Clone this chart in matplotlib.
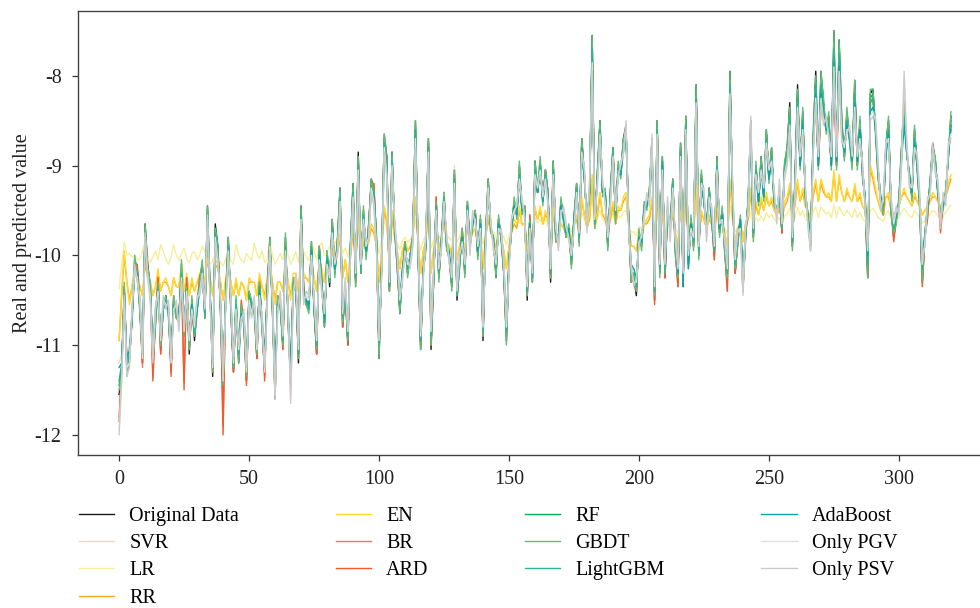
import numpy as np
import matplotlib
matplotlib.use("Agg")
import matplotlib.pyplot as plt


def vals(s):
    return np.array(s.split(), dtype=float)


original = vals("""
-11.55 -11.30 -10.35 -11.30 -11.15 -10.70 -10.05 -10.15 -10.60 -11.20 -9.65 -10.10 -10.35 -11.20 -10.75 -10.30 -11.05 -10.60 -10.45 -10.65
-11.25 -10.50 -10.65 -10.75 -10.10 -10.90 -10.30 -11.10 -10.50 -10.95 -10.60 -10.30 -10.10 -10.70 -9.45 -10.40 -11.35 -9.65 -9.90 -10.60
-11.50 -10.50 -9.80 -10.60 -11.30 -10.50 -11.20 -10.60 -10.75 -11.40 -10.40 -10.55 -10.60 -11.15 -10.30 -10.80 -11.30 -10.40 -9.80 -10.60
-11.60 -10.50 -10.55 -11.00 -9.80 -10.70 -11.45 -10.30 -10.30 -11.20 -9.45 -10.40 -10.55 -10.60 -9.85 -10.60 -11.10 -9.90 -10.30 -10.80
-9.95 -10.35 -9.60 -10.20 -9.85 -9.25 -10.80 -10.40 -11.00 -9.90 -9.20 -10.30 -8.85 -10.20 -9.50 -10.00 -9.70 -9.15 -9.25 -9.80
-11.15 -10.10 -8.65 -8.90 -10.40 -8.85 -9.70 -10.10 -10.65 -10.20 -9.90 -10.20 -10.00 -9.80 -8.50 -9.90 -11.05 -10.20 -9.90 -8.70
-11.05 -10.30 -9.40 -10.25 -9.85 -9.30 -9.90 -10.00 -10.35 -9.05 -10.50 -10.10 -9.75 -10.20 -9.40 -9.90 -9.65 -9.50 -10.00 -9.60
-10.95 -9.80 -9.15 -9.70 -9.80 -10.25 -9.60 -9.80 -10.20 -10.95 -10.10 -9.70 -9.40 -9.55 -9.00 -9.50 -9.45 -10.50 -9.60 -10.30
-8.95 -9.30 -8.95 -9.40 -9.05 -9.30 -10.30 -8.95 -9.80 -9.85 -9.40 -9.60 -9.80 -9.70 -10.10 -9.60 -9.20 -9.85 -8.70 -9.10
-9.65 -9.30 -7.55 -9.70 -9.10 -8.50 -9.30 -9.30 -9.90 -9.30 -8.80 -9.60 -9.00 -9.10 -8.70 -8.55 -9.60 -10.30 -10.25 -10.45
-9.75 -9.90 -9.45 -9.45 -9.30 -8.70 -10.50 -8.50 -10.20 -8.90 -10.25 -9.50 -9.70 -9.15 -9.95 -10.30 -8.75 -10.35 -8.45 -10.10
-9.60 -9.90 -8.10 -10.00 -9.10 -9.40 -9.70 -9.25 -9.60 -10.00 -8.90 -9.75 -9.50 -9.95 -10.30 -7.95 -9.30 -10.20 -9.85 -9.60
-10.40 -9.80 -9.40 -8.50 -9.80 -9.00 -9.40 -8.90 -9.35 -8.60 -9.15 -8.80 -9.40 -9.55 -9.30 -9.75 -9.00 -8.80 -8.30 -9.90
-9.20 -8.10 -9.00 -8.40 -9.35 -9.60 -9.90 -8.70 -7.95 -9.00 -7.95 -8.30 -8.60 -8.45 -9.00 -7.50 -9.00 -7.60 -8.50 -8.90
-8.40 -8.70 -9.00 -8.05 -9.00 -8.50 -9.10 -9.40 -10.25 -8.20 -8.15 -8.60 -9.10 -9.40 -9.50 -8.75 -8.50 -9.50 -9.80 -9.60
-9.40 -8.80 -8.30 -8.85 -9.10 -9.35 -8.60 -9.00 -9.45 -10.30 -9.80 -9.50 -9.20 -8.75 -8.95 -9.30 -9.60 -9.45 -9.30 -8.90
-8.45
""")

svr = vals("""
-11.20 -11.10 -10.55 -11.10 -11.00 -10.65 -10.20 -10.25 -10.55 -10.95 -9.85 -10.25 -10.40 -10.95 -10.65 -10.40 -10.85 -10.60 -10.50 -10.60
-11.00 -10.55 -10.65 -10.65 -10.25 -10.75 -10.40 -10.85 -10.55 -10.80 -10.60 -10.40 -10.25 -10.60 -9.70 -10.45 -11.05 -9.85 -10.05 -10.55
-11.20 -10.55 -9.95 -10.60 -11.05 -10.55 -11.00 -10.60 -10.70 -11.10 -10.50 -10.55 -10.60 -10.90 -10.40 -10.70 -11.05 -10.45 -9.95 -10.55
-11.25 -10.55 -10.55 -10.85 -9.95 -10.65 -11.15 -10.40 -10.35 -10.95 -9.70 -10.45 -10.55 -10.55 -10.00 -10.55 -10.90 -10.05 -10.35 -10.65
-10.05 -10.30 -9.70 -10.15 -9.90 -9.30 -10.65 -10.35 -10.80 -9.95 -9.30 -10.25 -8.95 -10.15 -9.55 -10.00 -9.75 -9.20 -9.25 -9.85
-10.90 -10.10 -8.65 -8.95 -10.35 -8.90 -9.75 -10.05 -10.55 -10.15 -9.90 -10.15 -10.00 -9.80 -8.50 -9.90 -10.85 -10.15 -9.90 -8.75
-10.85 -10.25 -9.45 -10.20 -9.85 -9.30 -9.90 -10.00 -10.30 -9.00 -10.40 -10.05 -9.75 -10.15 -9.40 -9.90 -9.65 -9.50 -10.00 -9.60
-10.75 -9.80 -9.20 -9.70 -9.80 -10.15 -9.60 -9.80 -10.15 -10.75 -10.05 -9.70 -9.40 -9.55 -9.05 -9.50 -9.50 -10.35 -9.60 -10.20
-9.00 -9.30 -9.00 -9.40 -9.10 -9.30 -10.15 -9.00 -9.80 -9.80 -9.40 -9.60 -9.75 -9.70 -10.00 -9.60 -9.25 -9.80 -8.80 -9.15
-9.60 -9.30 -7.80 -9.65 -9.10 -8.60 -9.30 -9.30 -9.80 -9.30 -8.85 -9.55 -9.05 -9.10 -8.75 -8.65 -9.55 -10.15 -10.15 -10.30
-9.75 -9.85 -9.45 -9.45 -9.30 -8.80 -10.35 -8.60 -10.10 -8.95 -10.15 -9.50 -9.70 -9.20 -9.90 -10.15 -8.85 -10.20 -8.55 -10.05
-9.60 -9.85 -8.25 -9.95 -9.15 -9.40 -9.65 -9.30 -9.60 -9.95 -9.00 -9.75 -9.50 -9.90 -10.15 -8.15 -9.30 -10.10 -9.80 -9.60
-10.25 -9.75 -9.40 -8.65 -9.75 -9.05 -9.40 -8.95 -9.35 -8.70 -9.15 -8.90 -9.40 -9.50 -9.30 -9.70 -9.05 -8.90 -8.45 -9.85
-9.20 -8.30 -9.00 -8.50 -9.30 -9.55 -9.80 -8.80 -8.15 -9.00 -8.15 -8.40 -8.60 -8.55 -9.00 -7.75 -8.95 -7.85 -8.60 -8.90
-8.50 -8.70 -8.95 -8.25 -8.95 -8.60 -9.05 -9.35 -10.05 -8.35 -8.30 -8.60 -9.05 -9.35 -9.45 -8.85 -8.60 -9.45 -9.70 -9.55
-9.40 -8.90 -8.45 -8.85 -9.10 -9.30 -8.70 -9.00 -9.40 -10.10 -9.75 -9.45 -9.20 -8.85 -8.95 -9.30 -9.55 -9.45 -9.30 -8.90
-8.55
""")

lr = vals("""
-10.37 -10.10 -9.85 -10.00 -9.98 -10.02 -10.00 -10.04 -10.05 -9.95 -9.86 -10.00 -10.08 -10.02 -9.95 -10.05 -9.88 -9.96 -10.04 -10.10
-10.02 -9.88 -10.00 -10.06 -9.98 -9.92 -10.04 -10.08 -9.98 -9.96 -10.05 -10.00 -9.90 -9.96 -10.04 -10.10 -10.06 -9.98 -10.02 -10.08
-10.12 -10.04 -9.96 -10.06 -10.10 -9.88 -10.00 -10.05 -10.08 -9.98 -10.02 -10.06 -9.86 -9.98 -10.04 -9.95 -10.08 -10.05 -9.84 -10.00
-10.10 -10.04 -9.98 -10.05 -9.86 -10.00 -10.10 -10.04 -9.96 -10.08 -9.82 -9.96 -10.02 -10.06 -9.88 -9.94 -10.05 -9.90 -9.86 -10.00
-9.98 -9.90 -9.95 -9.84 -9.90 -9.78 -9.98 -9.92 -10.02 -9.88 -9.76 -9.92 -9.70 -9.90 -9.80 -9.88 -9.78 -9.72 -9.75 -9.85
-9.98 -9.82 -9.62 -9.70 -9.88 -9.66 -9.80 -9.86 -9.94 -9.84 -9.80 -9.86 -9.82 -9.76 -9.60 -9.80 -9.94 -9.84 -9.78 -9.64
-9.92 -9.84 -9.70 -9.82 -9.76 -9.68 -9.78 -9.80 -9.84 -9.64 -9.86 -9.78 -9.74 -9.80 -9.68 -9.76 -9.72 -9.70 -9.78 -9.72
-9.88 -9.74 -9.64 -9.72 -9.74 -9.80 -9.70 -9.74 -9.80 -9.88 -9.78 -9.70 -9.66 -9.68 -9.60 -9.68 -9.66 -9.80 -9.70 -9.78
-9.58 -9.64 -9.60 -9.66 -9.60 -9.64 -9.80 -9.58 -9.70 -9.72 -9.66 -9.68 -9.70 -9.68 -9.74 -9.66 -9.62 -9.70 -9.52 -9.60
-9.66 -9.60 -9.36 -9.66 -9.58 -9.50 -9.60 -9.62 -9.70 -9.60 -9.54 -9.64 -9.56 -9.58 -9.52 -9.50 -9.64 -9.74 -9.74 -9.78
-9.68 -9.70 -9.64 -9.62 -9.60 -9.52 -9.78 -9.50 -9.74 -9.56 -9.76 -9.64 -9.66 -9.58 -9.70 -9.76 -9.54 -9.76 -9.50 -9.72
-9.64 -9.70 -9.46 -9.74 -9.60 -9.64 -9.68 -9.62 -9.66 -9.72 -9.56 -9.68 -9.64 -9.70 -9.76 -9.44 -9.62 -9.74 -9.68 -9.64
-9.76 -9.68 -9.62 -9.52 -9.68 -9.58 -9.62 -9.56 -9.62 -9.52 -9.58 -9.54 -9.60 -9.62 -9.58 -9.64 -9.56 -9.54 -9.48 -9.66
-9.58 -9.46 -9.56 -9.50 -9.60 -9.62 -9.66 -9.52 -9.46 -9.58 -9.46 -9.50 -9.54 -9.52 -9.58 -9.44 -9.58 -9.46 -9.52 -9.56
-9.50 -9.54 -9.58 -9.48 -9.58 -9.52 -9.60 -9.62 -9.66 -9.50 -9.48 -9.52 -9.58 -9.60 -9.62 -9.54 -9.50 -9.60 -9.64 -9.60
-9.58 -9.52 -9.48 -9.52 -9.56 -9.58 -9.50 -9.54 -9.58 -9.64 -9.62 -9.58 -9.54 -9.50 -9.52 -9.56 -9.60 -9.56 -9.52 -9.48
-9.44
""")

rr = vals("""
-10.95 -10.45 -10.00 -10.30 -10.50 -10.35 -10.15 -10.20 -10.35 -10.45 -10.10 -10.25 -10.30 -10.45 -10.35 -10.20 -10.40 -10.30 -10.30 -10.35
-10.45 -10.25 -10.35 -10.35 -10.15 -10.40 -10.25 -10.45 -10.30 -10.40 -10.30 -10.25 -10.20 -10.30 -10.05 -10.25 -10.45 -10.10 -10.15 -10.30
-10.50 -10.30 -10.10 -10.30 -10.45 -10.30 -10.45 -10.30 -10.35 -10.50 -10.30 -10.30 -10.30 -10.45 -10.25 -10.35 -10.45 -10.25 -10.10 -10.30
-10.50 -10.30 -10.30 -10.40 -10.10 -10.30 -10.45 -10.25 -10.25 -10.40 -10.00 -10.25 -10.25 -10.30 -10.10 -10.25 -10.40 -10.10 -10.20 -10.30
-10.05 -10.15 -9.95 -10.10 -10.00 -9.80 -10.25 -10.05 -10.30 -10.00 -9.75 -10.10 -9.60 -10.05 -9.85 -9.95 -9.85 -9.70 -9.75 -9.90
-10.30 -9.95 -9.50 -9.65 -10.10 -9.55 -9.80 -9.95 -10.15 -9.95 -9.85 -9.95 -9.90 -9.80 -9.40 -9.85 -10.20 -9.95 -9.85 -9.50
-10.20 -9.95 -9.70 -9.95 -9.80 -9.65 -9.85 -9.90 -10.00 -9.60 -10.05 -9.90 -9.80 -9.95 -9.70 -9.85 -9.75 -9.70 -9.90 -9.75
-10.15 -9.80 -9.60 -9.75 -9.80 -9.95 -9.70 -9.80 -9.95 -10.15 -9.90 -9.75 -9.65 -9.70 -9.50 -9.65 -9.65 -9.95 -9.70 -9.90
-9.50 -9.60 -9.50 -9.65 -9.55 -9.60 -9.95 -9.50 -9.75 -9.80 -9.65 -9.70 -9.75 -9.70 -9.85 -9.65 -9.60 -9.75 -9.40 -9.55
-9.70 -9.60 -9.15 -9.70 -9.55 -9.35 -9.55 -9.60 -9.75 -9.60 -9.45 -9.65 -9.50 -9.50 -9.40 -9.35 -9.65 -9.90 -9.90 -9.95
-9.75 -9.80 -9.65 -9.65 -9.60 -9.40 -9.95 -9.35 -9.85 -9.50 -9.90 -9.60 -9.70 -9.55 -9.75 -9.90 -9.45 -9.90 -9.40 -9.80
-9.65 -9.75 -9.25 -9.80 -9.55 -9.60 -9.70 -9.60 -9.65 -9.80 -9.45 -9.70 -9.60 -9.75 -9.90 -9.20 -9.55 -9.85 -9.70 -9.65
-9.85 -9.65 -9.60 -9.30 -9.65 -9.45 -9.55 -9.40 -9.50 -9.35 -9.45 -9.40 -9.50 -9.55 -9.50 -9.60 -9.45 -9.40 -9.25 -9.60
-9.45 -9.20 -9.40 -9.30 -9.45 -9.50 -9.60 -9.35 -9.20 -9.40 -9.20 -9.30 -9.35 -9.35 -9.40 -9.10 -9.40 -9.15 -9.30 -9.40
-9.30 -9.35 -9.40 -9.25 -9.40 -9.35 -9.45 -9.50 -9.60 -9.05 -9.15 -9.30 -9.40 -9.50 -9.55 -9.35 -9.35 -9.50 -9.55 -9.50
-9.45 -9.35 -9.30 -9.35 -9.40 -9.45 -9.35 -9.40 -9.45 -9.55 -9.50 -9.45 -9.40 -9.35 -9.35 -9.40 -9.45 -9.40 -9.35 -9.25
-9.15
""")

en = vals("""
-10.95 -10.40 -9.95 -10.30 -10.55 -10.35 -10.10 -10.20 -10.35 -10.45 -10.05 -10.25 -10.30 -10.45 -10.35 -10.15 -10.40 -10.30 -10.25 -10.35
-10.45 -10.25 -10.35 -10.35 -10.10 -10.40 -10.20 -10.45 -10.25 -10.40 -10.30 -10.20 -10.15 -10.30 -10.00 -10.25 -10.45 -10.05 -10.10 -10.30
-10.50 -10.25 -10.05 -10.30 -10.45 -10.25 -10.45 -10.30 -10.35 -10.50 -10.25 -10.30 -10.30 -10.45 -10.20 -10.35 -10.50 -10.25 -10.05 -10.30
-10.55 -10.30 -10.30 -10.40 -10.05 -10.30 -10.50 -10.20 -10.20 -10.40 -9.95 -10.20 -10.25 -10.30 -10.05 -10.25 -10.40 -10.05 -10.15 -10.30
-10.00 -10.15 -9.90 -10.10 -9.95 -9.75 -10.25 -10.05 -10.30 -9.95 -9.70 -10.10 -9.55 -10.05 -9.80 -9.95 -9.85 -9.65 -9.70 -9.90
-10.30 -9.95 -9.45 -9.60 -10.10 -9.50 -9.80 -9.95 -10.15 -9.95 -9.85 -9.95 -9.90 -9.80 -9.35 -9.85 -10.20 -9.95 -9.85 -9.45
-10.20 -9.95 -9.65 -9.95 -9.80 -9.60 -9.85 -9.90 -10.00 -9.55 -10.05 -9.90 -9.75 -9.95 -9.65 -9.85 -9.75 -9.70 -9.90 -9.75
-10.15 -9.80 -9.55 -9.75 -9.80 -9.95 -9.70 -9.80 -9.95 -10.15 -9.90 -9.70 -9.60 -9.65 -9.45 -9.65 -9.65 -9.95 -9.70 -9.90
-9.45 -9.60 -9.45 -9.65 -9.50 -9.60 -9.95 -9.45 -9.75 -9.80 -9.65 -9.70 -9.75 -9.70 -9.85 -9.65 -9.55 -9.75 -9.35 -9.55
-9.70 -9.55 -9.10 -9.70 -9.50 -9.30 -9.55 -9.55 -9.75 -9.55 -9.40 -9.65 -9.45 -9.50 -9.35 -9.30 -9.65 -9.90 -9.90 -9.95
-9.75 -9.80 -9.65 -9.60 -9.55 -9.35 -9.95 -9.30 -9.85 -9.45 -9.90 -9.60 -9.70 -9.50 -9.75 -9.90 -9.40 -9.90 -9.35 -9.80
-9.60 -9.75 -9.20 -9.80 -9.50 -9.60 -9.70 -9.55 -9.65 -9.80 -9.40 -9.70 -9.60 -9.75 -9.90 -9.15 -9.55 -9.85 -9.70 -9.65
-9.85 -9.65 -9.55 -9.25 -9.65 -9.40 -9.55 -9.35 -9.50 -9.30 -9.45 -9.35 -9.50 -9.55 -9.45 -9.60 -9.40 -9.35 -9.20 -9.60
-9.40 -9.15 -9.40 -9.25 -9.45 -9.50 -9.60 -9.30 -9.15 -9.40 -9.15 -9.25 -9.35 -9.30 -9.40 -9.05 -9.40 -9.10 -9.30 -9.40
-9.25 -9.35 -9.40 -9.20 -9.40 -9.30 -9.45 -9.50 -9.60 -9.00 -9.10 -9.25 -9.40 -9.50 -9.55 -9.35 -9.30 -9.50 -9.55 -9.50
-9.45 -9.35 -9.25 -9.35 -9.40 -9.45 -9.30 -9.40 -9.45 -9.55 -9.50 -9.45 -9.40 -9.30 -9.35 -9.40 -9.45 -9.40 -9.30 -9.20
-9.10
""")

br = vals("""
-11.80 -11.30 -10.40 -11.20 -11.20 -10.65 -10.10 -10.15 -10.55 -11.25 -9.70 -10.15 -10.40 -11.35 -10.70 -10.25 -11.10 -10.55 -10.50 -10.60
-11.30 -10.45 -10.70 -10.70 -10.20 -11.40 -10.25 -11.05 -10.55 -10.90 -10.55 -10.25 -10.15 -10.65 -9.55 -10.40 -11.30 -9.70 -9.95 -10.55
-11.90 -10.45 -9.85 -10.55 -11.30 -10.55 -11.15 -10.55 -10.75 -11.40 -10.45 -10.55 -10.55 -11.15 -10.30 -10.75 -11.35 -10.35 -9.85 -10.55
-11.55 -10.45 -10.50 -11.05 -9.85 -10.65 -11.45 -10.30 -10.35 -11.15 -9.50 -10.35 -10.55 -10.60 -9.90 -10.55 -11.10 -9.90 -10.35 -10.75
-10.00 -10.30 -9.65 -10.15 -9.85 -9.30 -10.80 -10.35 -10.95 -9.90 -9.30 -10.30 -8.90 -10.15 -9.55 -10.00 -9.65 -9.20 -9.20 -9.85
-11.10 -10.10 -8.70 -8.95 -10.35 -8.90 -9.70 -10.15 -10.60 -10.20 -9.85 -10.20 -10.00 -9.80 -8.60 -9.95 -11.00 -10.15 -9.90 -8.75
-11.00 -10.30 -9.35 -10.25 -9.85 -9.35 -9.90 -10.05 -10.35 -9.10 -10.45 -10.05 -9.70 -10.20 -9.45 -9.90 -9.65 -9.50 -10.00 -9.60
-10.90 -9.80 -9.20 -9.70 -9.85 -10.20 -9.60 -9.80 -10.20 -10.90 -10.05 -9.65 -9.40 -9.55 -9.05 -9.50 -9.45 -10.45 -9.55 -10.25
-9.00 -9.30 -9.00 -9.40 -9.05 -9.30 -10.25 -9.00 -9.85 -9.85 -9.40 -9.55 -9.80 -9.70 -10.10 -9.60 -9.25 -9.85 -8.75 -9.15
-9.60 -9.30 -7.70 -9.65 -9.10 -8.55 -9.30 -9.30 -9.90 -9.30 -8.85 -9.60 -9.00 -9.10 -8.75 -8.60 -9.60 -10.30 -10.25 -10.40
-9.75 -9.90 -9.45 -9.45 -9.30 -8.75 -10.50 -8.55 -10.20 -8.95 -10.25 -9.50 -9.70 -9.20 -9.95 -10.35 -8.80 -10.30 -8.50 -10.10
-9.60 -9.90 -8.20 -10.00 -9.10 -9.40 -9.70 -9.30 -9.60 -10.05 -8.95 -9.75 -9.50 -9.95 -10.40 -8.05 -9.30 -10.20 -9.85 -9.60
-10.35 -9.80 -9.40 -8.60 -9.80 -9.05 -9.40 -8.95 -9.35 -8.65 -9.15 -8.85 -9.40 -9.55 -9.30 -9.75 -9.05 -8.85 -8.40 -9.90
-9.20 -8.25 -9.00 -8.45 -9.35 -9.60 -9.90 -8.75 -8.30 -9.00 -8.35 -8.40 -8.60 -8.50 -9.00 -7.95 -9.00 -8.00 -8.55 -8.90
-8.45 -8.70 -9.00 -8.15 -9.00 -8.55 -9.10 -9.40 -10.20 -8.30 -8.25 -8.60 -9.10 -9.40 -9.55 -8.80 -8.55 -9.50 -9.80 -9.60
-9.40 -8.85 -8.25 -8.85 -9.15 -9.35 -8.65 -9.00 -9.45 -10.30 -9.80 -9.55 -9.20 -8.80 -8.95 -9.30 -9.65 -9.45 -9.30 -8.90
-8.55
""")

ard = vals("""
-11.85 -11.25 -10.40 -11.20 -11.15 -10.65 -10.10 -10.10 -10.55 -11.20 -9.75 -10.10 -10.40 -11.40 -10.70 -10.25 -11.10 -10.55 -10.50 -10.60
-11.35 -10.45 -10.70 -10.65 -10.25 -11.50 -10.25 -11.05 -10.55 -10.90 -10.55 -10.25 -10.10 -10.60 -9.60 -10.40 -11.30 -9.75 -9.95 -10.55
-12.00 -10.45 -9.85 -10.55 -11.30 -10.55 -11.15 -10.50 -10.75 -11.45 -10.45 -10.55 -10.55 -11.15 -10.30 -10.75 -11.40 -10.35 -9.85 -10.55
-11.55 -10.45 -10.50 -11.05 -9.85 -10.65 -11.50 -10.30 -10.35 -11.15 -9.50 -10.35 -10.55 -10.60 -9.90 -10.55 -11.10 -9.90 -10.35 -10.75
-10.00 -10.30 -9.65 -10.15 -9.85 -9.30 -10.80 -10.35 -11.00 -9.90 -9.30 -10.35 -8.90 -10.15 -9.55 -10.00 -9.65 -9.20 -9.20 -9.85
-11.10 -10.10 -8.70 -8.95 -10.40 -8.90 -9.70 -10.15 -10.60 -10.20 -9.85 -10.20 -10.00 -9.80 -8.60 -9.95 -11.00 -10.15 -9.90 -8.75
-11.00 -10.30 -9.35 -10.25 -9.85 -9.35 -9.90 -10.05 -10.35 -9.10 -10.45 -10.05 -9.70 -10.20 -9.45 -9.90 -9.65 -9.50 -10.00 -9.60
-10.90 -9.80 -9.20 -9.70 -9.85 -10.20 -9.60 -9.80 -10.20 -10.90 -10.05 -9.65 -9.40 -9.55 -9.05 -9.50 -9.45 -10.45 -9.55 -10.25
-9.00 -9.30 -9.00 -9.40 -9.05 -9.30 -10.25 -9.00 -9.85 -9.85 -9.40 -9.55 -9.80 -9.70 -10.10 -9.60 -9.25 -9.85 -8.75 -9.15
-9.60 -9.30 -7.70 -9.65 -9.10 -8.55 -9.30 -9.30 -9.90 -9.30 -8.85 -9.60 -9.00 -9.10 -8.75 -8.60 -9.60 -10.30 -10.25 -10.40
-9.75 -9.90 -9.45 -9.45 -9.30 -8.75 -10.55 -8.55 -10.20 -8.95 -10.25 -9.50 -9.70 -9.20 -9.95 -10.35 -8.80 -10.30 -8.50 -10.10
-9.60 -9.90 -8.20 -10.00 -9.10 -9.40 -9.70 -9.30 -9.60 -10.05 -8.95 -9.75 -9.50 -9.95 -10.40 -8.05 -9.30 -10.20 -9.85 -9.60
-10.35 -9.80 -9.40 -8.60 -9.80 -9.05 -9.40 -8.95 -9.35 -8.65 -9.15 -8.85 -9.40 -9.55 -9.30 -9.75 -9.05 -8.85 -8.40 -9.90
-9.20 -8.25 -9.00 -8.45 -9.35 -9.60 -9.90 -8.75 -8.30 -9.00 -8.35 -8.40 -8.60 -8.50 -9.00 -8.00 -9.00 -8.05 -8.55 -8.90
-8.45 -8.70 -9.00 -8.15 -9.00 -8.55 -9.10 -9.40 -10.25 -8.30 -8.25 -8.60 -9.15 -9.40 -9.55 -8.80 -8.55 -9.50 -9.85 -9.60
-9.40 -8.85 -8.20 -8.85 -9.15 -9.35 -8.65 -9.00 -9.45 -10.35 -9.80 -9.60 -9.20 -8.80 -8.95 -9.30 -9.75 -9.45 -9.30 -8.90
-8.55
""")

rf = vals("""
-11.45 -11.25 -10.40 -11.25 -11.10 -10.70 -10.10 -10.20 -10.60 -11.10 -9.70 -10.15 -10.35 -11.10 -10.70 -10.35 -10.95 -10.60 -10.50 -10.60
-11.15 -10.50 -10.60 -10.70 -10.15 -10.85 -10.35 -11.00 -10.50 -10.90 -10.55 -10.35 -10.15 -10.65 -9.50 -10.45 -11.25 -9.70 -9.95 -10.55
-11.40 -10.45 -9.85 -10.60 -11.25 -10.50 -11.10 -10.60 -10.70 -11.30 -10.45 -10.55 -10.60 -11.05 -10.35 -10.75 -11.20 -10.40 -9.85 -10.60
-11.50 -10.50 -10.55 -10.95 -9.85 -10.65 -11.35 -10.35 -10.30 -11.10 -9.50 -10.40 -10.50 -10.55 -9.90 -10.60 -11.00 -9.95 -10.30 -10.75
-10.00 -10.30 -9.65 -10.20 -9.85 -9.30 -10.70 -10.40 -10.90 -9.90 -9.25 -10.25 -8.90 -10.15 -9.55 -10.00 -9.70 -9.20 -9.30 -9.80
-11.05 -10.10 -8.70 -8.95 -10.35 -8.90 -9.70 -10.05 -10.60 -10.20 -9.90 -10.15 -10.00 -9.80 -8.55 -9.90 -10.95 -10.20 -9.90 -8.75
-10.95 -10.25 -9.45 -10.20 -9.85 -9.35 -9.90 -10.00 -10.30 -9.10 -10.45 -10.10 -9.75 -10.15 -9.45 -9.90 -9.65 -9.55 -10.00 -9.60
-10.85 -9.80 -9.20 -9.70 -9.80 -10.20 -9.60 -9.80 -10.15 -10.85 -10.05 -9.70 -9.45 -9.55 -9.05 -9.50 -9.50 -10.40 -9.60 -10.25
-9.00 -9.30 -9.00 -9.40 -9.10 -9.35 -10.20 -9.00 -9.80 -9.85 -9.40 -9.60 -9.75 -9.70 -10.05 -9.60 -9.25 -9.80 -8.75 -9.15
-9.60 -9.30 -7.65 -9.65 -9.10 -8.55 -9.30 -9.30 -9.85 -9.30 -8.85 -9.55 -9.05 -9.10 -8.75 -8.60 -9.55 -10.20 -10.20 -10.35
-9.75 -9.85 -9.45 -9.45 -9.30 -8.75 -10.40 -8.55 -10.15 -8.95 -10.20 -9.50 -9.70 -9.20 -9.90 -10.20 -8.80 -10.25 -8.50 -10.05
-9.60 -9.85 -8.15 -9.95 -9.15 -9.40 -9.65 -9.30 -9.60 -9.95 -8.95 -9.75 -9.50 -9.90 -10.20 -8.05 -9.30 -10.10 -9.80 -9.60
-10.30 -9.75 -9.40 -8.60 -9.75 -9.05 -9.40 -8.95 -9.35 -8.65 -9.15 -8.85 -9.40 -9.50 -9.30 -9.70 -9.05 -8.85 -8.40 -9.85
-9.20 -8.20 -9.00 -8.45 -9.30 -9.55 -9.85 -8.75 -8.05 -9.00 -8.05 -8.35 -8.60 -8.50 -9.00 -7.60 -8.95 -7.70 -8.55 -8.90
-8.45 -8.70 -8.95 -8.15 -8.95 -8.55 -9.05 -9.35 -10.15 -8.25 -8.20 -8.60 -9.05 -9.35 -9.45 -8.80 -8.55 -9.45 -9.75 -9.55
-9.40 -8.85 -8.40 -8.85 -9.10 -9.30 -8.65 -9.00 -9.40 -10.20 -9.75 -9.45 -9.20 -8.80 -8.95 -9.30 -9.55 -9.45 -9.30 -8.90
-8.50
""")

gbdt = vals("""
-11.50 -11.30 -10.30 -11.35 -11.15 -10.65 -10.00 -10.20 -10.65 -11.15 -9.65 -10.15 -10.30 -11.15 -10.80 -10.30 -11.00 -10.55 -10.45 -10.70
-11.20 -10.45 -10.70 -10.75 -10.05 -10.90 -10.35 -11.05 -10.45 -10.90 -10.65 -10.30 -10.05 -10.70 -9.45 -10.35 -11.30 -9.70 -9.90 -10.65
-11.45 -10.50 -9.80 -10.65 -11.25 -10.45 -11.20 -10.55 -10.80 -11.35 -10.40 -10.50 -10.65 -11.10 -10.30 -10.85 -11.25 -10.45 -9.80 -10.65
-11.55 -10.45 -10.60 -11.00 -9.75 -10.75 -11.40 -10.25 -10.35 -11.15 -9.45 -10.45 -10.55 -10.65 -9.85 -10.55 -11.05 -9.90 -10.35 -10.80
-9.95 -10.30 -9.60 -10.25 -9.80 -9.25 -10.75 -10.45 -10.95 -9.85 -9.20 -10.35 -8.90 -10.20 -9.45 -10.05 -9.70 -9.15 -9.30 -9.75
-11.15 -10.05 -8.65 -8.95 -10.40 -8.85 -9.75 -10.10 -10.65 -10.15 -9.85 -10.25 -10.00 -9.75 -8.50 -9.95 -11.05 -10.15 -9.95 -8.70
-11.00 -10.30 -9.40 -10.30 -9.80 -9.30 -9.95 -10.00 -10.40 -9.05 -10.45 -10.15 -9.70 -10.25 -9.40 -9.85 -9.70 -9.50 -10.05 -9.55
-10.90 -9.75 -9.15 -9.75 -9.80 -10.25 -9.55 -9.85 -10.20 -11.00 -10.05 -9.70 -9.35 -9.60 -8.95 -9.55 -9.45 -10.45 -9.60 -10.30
-8.95 -9.25 -8.90 -9.45 -9.05 -9.30 -10.25 -8.95 -9.85 -9.80 -9.35 -9.65 -9.80 -9.65 -10.15 -9.55 -9.20 -9.90 -8.70 -9.15
-9.60 -9.35 -7.55 -9.70 -9.05 -8.50 -9.35 -9.25 -9.95 -9.25 -8.80 -9.65 -8.95 -9.15 -8.70 -8.60 -9.55 -10.30 -10.20 -10.40
-9.70 -9.95 -9.40 -9.50 -9.25 -8.70 -10.45 -8.50 -10.25 -8.90 -10.20 -9.55 -9.65 -9.15 -10.00 -10.25 -8.75 -10.30 -8.45 -10.15
-9.55 -9.95 -8.10 -10.05 -9.05 -9.45 -9.65 -9.25 -9.65 -9.95 -8.90 -9.80 -9.45 -10.00 -10.25 -7.95 -9.35 -10.15 -9.90 -9.55
-10.35 -9.85 -9.35 -8.55 -9.85 -8.95 -9.45 -8.90 -9.40 -8.60 -9.20 -8.80 -9.45 -9.50 -9.35 -9.70 -8.95 -8.80 -8.35 -9.95
-9.15 -8.15 -9.05 -8.35 -9.40 -9.55 -9.95 -8.65 -8.00 -9.05 -7.95 -8.25 -8.65 -8.40 -9.05 -7.50 -9.05 -7.60 -8.45 -8.95
-8.35 -8.75 -9.05 -8.05 -9.05 -8.45 -9.15 -9.35 -10.25 -8.15 -8.15 -8.65 -9.15 -9.35 -9.55 -8.80 -8.45 -9.55 -9.75 -9.65
-9.35 -8.80 -8.35 -8.90 -9.05 -9.40 -8.55 -9.05 -9.50 -10.30 -9.75 -9.55 -9.15 -8.80 -8.90 -9.35 -9.55 -9.50 -9.25 -8.95
-8.40
""")

lightgbm = vals("""
-11.40 -11.20 -10.45 -11.20 -11.10 -10.75 -10.10 -10.25 -10.55 -11.05 -9.75 -10.20 -10.40 -11.05 -10.70 -10.35 -10.95 -10.60 -10.50 -10.65
-11.10 -10.55 -10.65 -10.70 -10.20 -10.80 -10.40 -10.95 -10.55 -10.85 -10.60 -10.35 -10.20 -10.65 -9.55 -10.45 -11.20 -9.75 -10.00 -10.55
-11.35 -10.50 -9.90 -10.55 -11.20 -10.55 -11.10 -10.65 -10.70 -11.25 -10.45 -10.60 -10.55 -11.05 -10.35 -10.75 -11.20 -10.40 -9.90 -10.55
-11.45 -10.55 -10.50 -10.95 -9.90 -10.65 -11.30 -10.35 -10.30 -11.10 -9.55 -10.40 -10.50 -10.60 -9.90 -10.60 -11.00 -9.95 -10.30 -10.75
-10.00 -10.30 -9.70 -10.15 -9.90 -9.35 -10.70 -10.35 -10.90 -9.95 -9.30 -10.25 -9.00 -10.15 -9.55 -9.95 -9.75 -9.25 -9.30 -9.85
-11.00 -10.15 -8.75 -9.00 -10.35 -8.95 -9.70 -10.05 -10.55 -10.20 -9.90 -10.15 -10.05 -9.80 -8.60 -9.90 -10.95 -10.20 -9.85 -8.80
-10.90 -10.25 -9.45 -10.20 -9.85 -9.35 -9.85 -10.00 -10.30 -9.15 -10.45 -10.05 -9.80 -10.15 -9.45 -9.90 -9.60 -9.55 -9.95 -9.65
-10.85 -9.85 -9.25 -9.70 -9.85 -10.15 -9.65 -9.75 -10.15 -10.85 -10.10 -9.65 -9.45 -9.50 -9.10 -9.45 -9.50 -10.40 -9.65 -10.25
-9.05 -9.30 -9.00 -9.35 -9.10 -9.35 -10.20 -9.05 -9.75 -9.85 -9.45 -9.55 -9.75 -9.75 -10.05 -9.65 -9.25 -9.80 -8.80 -9.10
-9.65 -9.25 -7.70 -9.65 -9.15 -8.60 -9.25 -9.35 -9.85 -9.35 -8.85 -9.55 -9.05 -9.05 -8.80 -8.60 -9.60 -10.20 -10.25 -10.35
-9.80 -9.85 -9.50 -9.40 -9.35 -8.80 -10.40 -8.60 -10.15 -8.95 -10.15 -9.45 -9.75 -9.20 -9.90 -10.20 -8.85 -10.25 -8.55 -10.05
-9.65 -9.85 -8.25 -9.95 -9.15 -9.35 -9.75 -9.30 -9.55 -9.95 -9.00 -9.70 -9.55 -9.90 -10.20 -8.10 -9.25 -10.10 -9.80 -9.65
-10.30 -9.75 -9.45 -8.65 -9.75 -9.05 -9.35 -9.00 -9.30 -8.70 -9.10 -8.90 -9.35 -9.55 -9.25 -9.70 -9.05 -8.90 -8.45 -9.85
-9.25 -8.25 -8.95 -8.50 -9.30 -9.60 -9.80 -8.80 -8.10 -8.95 -8.10 -8.40 -8.55 -8.55 -8.95 -7.70 -8.95 -7.75 -8.60 -8.85
-8.50 -8.65 -8.95 -8.20 -8.95 -8.60 -9.05 -9.40 -10.10 -8.30 -8.25 -8.55 -9.05 -9.40 -9.45 -8.85 -8.60 -9.45 -9.70 -9.55
-9.45 -8.90 -8.45 -8.80 -9.15 -9.30 -8.70 -8.95 -9.40 -10.15 -9.80 -9.45 -9.25 -8.85 -9.00 -9.25 -9.60 -9.40 -9.35 -8.85
-8.55
""")

adaboost = vals("""
-11.25 -11.20 -10.50 -11.15 -11.05 -10.65 -10.20 -10.20 -10.50 -11.00 -9.85 -10.20 -10.45 -11.00 -10.60 -10.40 -10.90 -10.55 -10.55 -10.60
-11.00 -10.60 -10.60 -10.65 -10.25 -10.75 -10.45 -10.90 -10.55 -10.80 -10.60 -10.40 -10.25 -10.60 -9.65 -10.45 -11.10 -9.80 -10.05 -10.50
-11.25 -10.55 -9.95 -10.50 -11.15 -10.60 -11.00 -10.65 -10.65 -11.15 -10.50 -10.60 -10.60 -10.95 -10.40 -10.70 -11.10 -10.45 -9.95 -10.50
-11.35 -10.55 -10.55 -10.85 -9.95 -10.60 -11.20 -10.40 -10.35 -11.00 -9.65 -10.45 -10.50 -10.55 -9.95 -10.55 -10.90 -10.00 -10.35 -10.70
-10.05 -10.25 -9.75 -10.15 -9.90 -9.40 -10.65 -10.35 -10.80 -10.00 -9.40 -10.20 -9.10 -10.10 -9.60 -9.95 -9.75 -9.30 -9.35 -9.85
-10.90 -10.15 -8.85 -9.05 -10.30 -9.00 -9.70 -10.00 -10.50 -10.15 -9.95 -10.10 -10.05 -9.85 -8.70 -9.90 -10.85 -10.15 -9.85 -8.90
-10.80 -10.20 -9.50 -10.15 -9.85 -9.40 -9.85 -9.95 -10.25 -9.25 -10.40 -10.05 -9.80 -10.10 -9.50 -9.85 -9.65 -9.55 -9.95 -9.65
-10.75 -9.85 -9.30 -9.70 -9.85 -10.10 -9.65 -9.80 -10.10 -10.75 -10.05 -9.70 -9.45 -9.55 -9.15 -9.50 -9.50 -10.30 -9.65 -10.20
-9.10 -9.30 -9.05 -9.40 -9.15 -9.35 -10.10 -9.10 -9.75 -9.80 -9.45 -9.60 -9.75 -9.70 -10.00 -9.60 -9.30 -9.75 -8.90 -9.15
-9.60 -9.30 -7.85 -9.60 -9.15 -8.70 -9.30 -9.30 -9.80 -9.35 -8.95 -9.50 -9.10 -9.10 -8.85 -8.70 -9.55 -10.10 -10.15 -10.25
-9.80 -9.85 -9.50 -9.45 -9.35 -8.85 -10.30 -8.70 -10.10 -9.00 -10.10 -9.50 -9.70 -9.25 -9.85 -10.20 -8.90 -10.35 -8.60 -10.15
-9.65 -9.80 -8.30 -9.90 -9.20 -9.40 -9.65 -9.35 -9.60 -9.90 -9.05 -9.70 -9.55 -9.85 -10.15 -8.20 -9.30 -10.05 -9.80 -9.60
-10.25 -9.75 -9.45 -8.75 -9.70 -9.10 -9.40 -9.05 -9.35 -8.75 -9.15 -8.95 -9.40 -9.50 -9.30 -9.65 -9.10 -8.95 -8.55 -9.80
-9.25 -8.35 -9.00 -8.55 -9.30 -9.55 -9.80 -8.85 -8.20 -9.00 -8.20 -8.45 -8.60 -8.60 -9.00 -7.85 -8.95 -7.90 -8.65 -8.85
-8.55 -8.70 -8.95 -8.30 -8.95 -8.60 -9.05 -9.35 -10.00 -8.40 -8.35 -8.60 -9.05 -9.35 -9.40 -8.90 -8.65 -9.40 -9.65 -9.55
-9.45 -8.95 -8.55 -8.85 -9.10 -9.30 -8.75 -9.00 -9.40 -10.05 -9.75 -9.45 -9.25 -8.90 -9.00 -9.30 -9.55 -9.45 -9.35 -8.90
-8.60
""")

only_pgv = vals("""
-11.95 -11.35 -10.50 -11.25 -11.20 -10.60 -10.15 -10.25 -10.50 -11.15 -9.80 -10.20 -10.45 -11.15 -10.60 -10.40 -10.95 -10.50 -10.55 -10.55
-11.20 -10.60 -10.55 -10.80 -10.25 -10.85 -10.40 -10.95 -10.60 -10.80 -10.50 -10.40 -10.20 -10.60 -9.60 -10.50 -11.25 -9.80 -10.05 -10.50
-11.40 -10.55 -9.95 -10.50 -11.20 -10.60 -11.05 -10.70 -10.65 -11.30 -10.50 -10.65 -10.50 -11.05 -10.45 -10.70 -11.30 -10.50 -9.90 -10.50
-11.60 -10.60 -10.45 -10.90 -9.95 -10.60 -11.60 -10.40 -10.25 -11.05 -9.60 -10.50 -10.45 -10.50 -10.00 -10.50 -10.95 -10.05 -10.40 -10.65
-10.10 -10.25 -9.75 -10.10 -9.95 -9.40 -10.65 -10.30 -10.85 -10.00 -9.35 -10.20 -9.05 -10.10 -9.60 -9.90 -9.80 -9.25 -9.40 -9.90
-10.95 -10.20 -8.80 -9.10 -10.30 -9.00 -9.65 -10.00 -10.50 -10.25 -9.95 -10.10 -10.10 -9.85 -8.70 -9.85 -10.90 -10.25 -9.80 -8.85
-10.85 -10.20 -9.50 -10.15 -9.90 -9.40 -9.80 -10.05 -10.25 -9.20 -10.40 -10.00 -9.85 -10.10 -9.50 -9.95 -9.55 -9.60 -9.90 -9.70
-10.80 -9.90 -9.25 -9.65 -9.90 -10.10 -9.70 -9.75 -10.10 -10.80 -10.15 -9.60 -9.50 -9.45 -9.15 -9.40 -9.55 -10.35 -9.70 -10.20
-9.10 -9.25 -9.05 -9.35 -9.15 -9.40 -10.15 -9.10 -9.70 -9.90 -9.50 -9.50 -9.70 -9.80 -10.00 -9.70 -9.30 -9.75 -8.85 -9.05
-9.70 -9.20 -7.85 -9.60 -9.20 -8.65 -9.20 -9.40 -9.80 -9.40 -8.90 -9.50 -9.10 -9.00 -8.85 -8.55 -9.65 -10.15 -10.30 -10.30
-9.85 -9.80 -9.55 -9.35 -9.40 -8.70 -10.35 -8.65 -10.10 -9.05 -10.10 -9.40 -9.80 -9.25 -9.85 -10.15 -8.90 -10.20 -8.60 -10.00
-9.70 -9.80 -8.30 -9.90 -9.20 -9.30 -9.80 -9.35 -9.50 -9.90 -9.05 -9.65 -9.60 -9.85 -10.15 -8.20 -9.20 -10.05 -9.75 -9.70
-10.40 -9.70 -9.50 -8.50 -9.70 -9.10 -9.30 -9.05 -9.25 -8.75 -9.05 -8.95 -9.30 -9.60 -9.20 -9.65 -9.10 -8.95 -8.55 -9.80
-9.30 -8.35 -8.90 -8.60 -9.25 -9.65 -9.90 -8.85 -8.25 -8.90 -8.25 -8.50 -8.50 -8.65 -8.90 -7.90 -8.90 -7.95 -8.70 -8.80
-8.60 -8.60 -8.90 -8.35 -8.90 -8.70 -9.00 -9.45 -9.95 -8.45 -8.40 -8.50 -9.00 -9.45 -9.40 -8.75 -8.70 -9.40 -9.65 -9.50
-9.50 -8.95 -8.05 -8.75 -9.20 -9.25 -8.80 -8.90 -9.35 -10.10 -9.85 -9.40 -9.30 -8.80 -9.05 -9.20 -9.65 -9.35 -9.40 -8.80
-8.65
""")

only_psv = vals("""
-12.00 -11.40 -10.45 -11.35 -11.25 -10.55 -10.10 -10.30 -10.45 -11.10 -9.75 -10.25 -10.50 -11.20 -10.55 -10.45 -10.90 -10.45 -10.60 -10.50
-11.15 -10.65 -10.50 -10.85 -10.30 -10.80 -10.45 -10.90 -10.65 -10.75 -10.45 -10.45 -10.25 -10.55 -9.55 -10.55 -11.20 -9.85 -10.10 -10.45
-11.35 -10.60 -10.00 -10.45 -11.15 -10.65 -11.00 -10.75 -10.60 -11.25 -10.55 -10.70 -10.45 -11.00 -10.50 -10.65 -11.25 -10.55 -9.95 -10.45
-11.55 -10.65 -10.40 -10.85 -10.00 -10.55 -11.65 -10.45 -10.20 -11.00 -9.65 -10.55 -10.40 -10.45 -10.05 -10.45 -10.90 -10.10 -10.45 -10.60
-10.15 -10.20 -9.80 -10.05 -10.00 -9.45 -10.60 -10.25 -10.80 -10.05 -9.40 -10.15 -9.10 -10.05 -9.65 -9.85 -9.85 -9.30 -9.45 -9.95
-10.90 -10.25 -8.85 -9.15 -10.25 -9.05 -9.60 -9.95 -10.45 -10.30 -10.00 -10.05 -10.15 -9.90 -8.80 -9.80 -10.85 -10.30 -9.75 -8.90
-10.80 -10.15 -9.55 -10.10 -9.95 -9.45 -9.75 -10.10 -10.20 -9.25 -10.35 -9.95 -9.90 -10.05 -9.55 -10.00 -9.50 -9.65 -9.85 -9.75
-10.75 -9.95 -9.30 -9.60 -9.95 -10.05 -9.75 -9.70 -10.05 -10.75 -10.20 -9.55 -9.55 -9.40 -9.20 -9.35 -9.60 -10.30 -9.75 -10.15
-9.15 -9.20 -9.10 -9.30 -9.20 -9.45 -10.10 -9.15 -9.65 -9.95 -9.55 -9.45 -9.65 -9.85 -9.95 -9.75 -9.35 -9.70 -8.90 -9.00
-9.75 -9.15 -7.95 -9.55 -9.25 -8.70 -9.15 -9.45 -9.75 -9.45 -8.95 -9.45 -9.15 -8.95 -8.90 -8.50 -9.70 -10.10 -10.35 -10.25
-9.90 -9.75 -9.60 -9.30 -9.45 -8.65 -10.30 -8.70 -10.05 -9.10 -10.05 -9.35 -9.85 -9.30 -9.80 -10.10 -8.95 -10.15 -8.65 -9.95
-9.75 -9.75 -8.35 -9.85 -9.25 -9.25 -9.85 -9.40 -9.45 -9.85 -9.10 -9.60 -9.65 -9.80 -10.10 -8.25 -9.15 -10.00 -9.70 -9.75
-10.45 -9.65 -9.55 -8.45 -9.65 -9.15 -9.25 -9.10 -9.20 -8.80 -9.00 -9.00 -9.25 -9.65 -9.15 -9.60 -9.15 -9.00 -8.60 -9.75
-9.35 -8.40 -8.85 -8.65 -9.20 -9.70 -9.95 -8.90 -8.30 -8.85 -8.30 -8.55 -8.45 -8.70 -8.85 -7.95 -8.85 -8.00 -8.75 -8.75
-8.65 -8.55 -8.85 -8.40 -8.85 -8.75 -8.95 -9.50 -9.90 -8.50 -8.45 -8.45 -8.95 -9.50 -9.35 -8.70 -8.75 -9.35 -9.60 -9.45
-9.55 -9.00 -7.95 -8.70 -9.25 -9.20 -8.85 -8.85 -9.30 -10.05 -9.90 -9.35 -9.35 -8.75 -9.10 -9.15 -9.70 -9.30 -9.45 -8.75
-8.70
""")

labels = ["Original Data", "SVR", "LR", "RR", "EN", "BR", "ARD", "RF", "GBDT",
          "LightGBM", "AdaBoost", "Only PGV", "Only PSV"]
colors = ["#1a1a1a", "#fbd6bf", "#f6ee9c", "#ffa51f", "#ffd82a", "#f0736c",
          "#f15a2b", "#00b04f", "#5cc177", "#27b68f", "#07a5a5", "#e0e0e0",
          "#cbcbcb"]
series = [original, svr, lr, rr, en, br, ard, rf, gbdt, lightgbm, adaboost,
          only_pgv, only_psv]

plt.rcParams["font.family"] = ["Liberation Serif", "DejaVu Serif"]
plt.rcParams["axes.unicode_minus"] = False

fig = plt.figure(figsize=(9.8, 6.08), dpi=100)
ax = fig.add_axes([77.5 / 980, 153 / 608, 915 / 980, 444.3 / 608])

for y, lab, c in zip(series, labels, colors):
    ax.plot(np.arange(len(y)), y, color=c, lw=1.0, label=lab)

ax.set_xticks([0, 50, 100, 150, 200, 250, 300])
ax.set_yticks([-12, -11, -10, -9, -8])
ax.tick_params(labelsize=14.5, length=4.5, width=0.9, color="#333333",
               labelcolor="#222222")
ax.tick_params(axis="x", pad=6)
ax.tick_params(axis="y", pad=7)
for sp in ax.spines.values():
    sp.set_color("#444444")
    sp.set_linewidth(1.0)
ax.set_ylabel("Real and predicted value", fontsize=14.5, color="#222222",
              labelpad=2)

# four-column key under the axes
ax.legend(loc="upper left", bbox_to_anchor=(79 / 980, 1 - 507 / 608),
          bbox_transform=fig.transFigure, ncol=4, frameon=False,
          fontsize=14.5, handlelength=1.75, handletextpad=0.75,
          columnspacing=4.8, labelspacing=0.4, borderpad=0,
          borderaxespad=0)

fig.savefig("out.png", dpi=100)
